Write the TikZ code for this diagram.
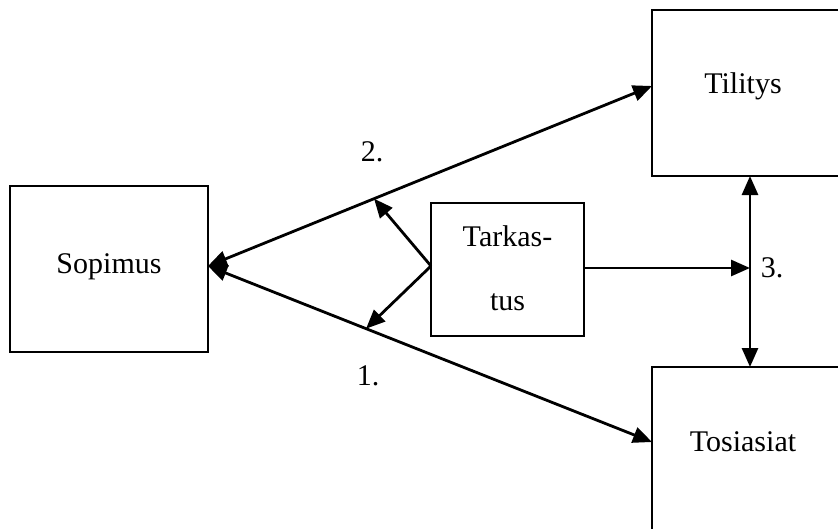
\documentclass[tikz,border=0pt]{standalone}
\usepackage{fontspec}
\setmainfont{Liberation Serif}
\usetikzlibrary{arrows.meta,calc}
\begin{document}
\begin{tikzpicture}[x=1pt,y=-1pt,
  box/.style={draw,line width=2.8pt,rectangle,inner sep=0pt},
  txt/.style={font=\fontsize{30}{36}\selectfont,inner sep=0pt},
  conn/.style={line width=2.8pt,-{Triangle[length=19pt,width=16pt]}},
  dconn/.style={line width=2.8pt,{Triangle[length=19pt,width=16pt]}-{Triangle[length=19pt,width=16pt]}}]
\useasboundingbox (0,0) rectangle (838,528);
\node[box,minimum width=198pt,minimum height=166pt] (sop) at (109,269) {};
\node[txt] (soptxt) at (109,267) {Sopimus};
\node[box,minimum width=230pt,minimum height=166pt] (til) at (767,93) {};
\node[txt] (tiltxt) at (743,86) {Tilitys};
\node[box,minimum width=230pt,minimum height=200pt] (tos) at (767,467) {};
\node[txt] (tostxt) at (743,442) {Tosiasiat};
\node[box,minimum width=153pt,minimum height=133pt] (tark) at (507.5,269.5) {};
\node[txt,align=center,font=\fontsize{30}{64}\selectfont] (tarktxt) at (507.5,268) {Tarkas-\\tus};
\coordinate (a) at (208,266);
\coordinate (t2) at (652,86);
\coordinate (t1) at (652,442);
\coordinate (m2) at ($(a)!0.374!(t2)$);
\coordinate (m1) at ($(a)!0.356!(t1)$);
\coordinate (tw) at (431,266);
\coordinate (te) at (584,268);
\coordinate (v) at (750,268);
\coordinate (vt) at (750,176);
\coordinate (vb) at (750,367);
\draw[dconn] (a) -- (t2);
\draw[dconn] (a) -- (t1);
\draw[conn] (tw) -- (m2);
\draw[conn] (tw) -- (m1);
\draw[conn] (te) -- (v);
\draw[dconn] (vt) -- (vb);
\node[txt] (l2) at (372,152) {2.};
\node[txt] (l1) at (368,376) {1.};
\node[txt] (l3) at (772,268) {3.};
\end{tikzpicture}
\end{document}
